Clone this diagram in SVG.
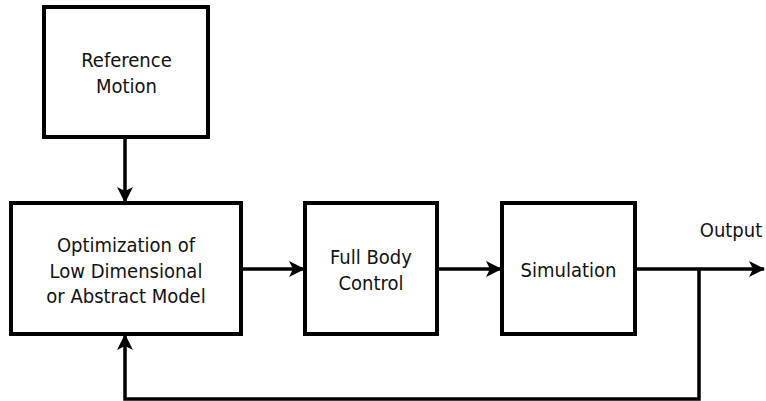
<svg xmlns="http://www.w3.org/2000/svg" width="766" height="401" viewBox="0 0 766 401">
<defs>
<style>
.box{fill:#fff;stroke:#000;stroke-width:4}
.t{font-family:"DejaVu Sans Condensed","DejaVu Sans",sans-serif;font-stretch:condensed;font-size:20px;fill:#111;text-anchor:middle}
.c{fill:none;stroke:#000;stroke-width:3.5}
</style>
<marker id="ah" viewBox="0 0 16 16" refX="15" refY="8" markerWidth="16" markerHeight="16" markerUnits="userSpaceOnUse" orient="auto">
<path d="M0,0 L16,8 L0,16 L4,8 Z" fill="#000"/>
</marker>
</defs>
<rect width="766" height="401" fill="#fff"/>
<g id="connectors">
<line class="c" x1="125" y1="137" x2="125" y2="202" marker-end="url(#ah)"/>
<line class="c" x1="241" y1="269" x2="304" y2="269" marker-end="url(#ah)"/>
<line class="c" x1="437" y1="269" x2="501" y2="269" marker-end="url(#ah)"/>
<line class="c" x1="635" y1="269" x2="764" y2="269" marker-end="url(#ah)"/>
<polyline class="c" points="699,269 699,399 125,399 125,335" marker-end="url(#ah)"/>
</g>
<g id="ref">
<rect class="box" x="44" y="7" width="164" height="130"/>
<text class="t" x="126.5" y="67">Reference</text>
<text class="t" x="126.5" y="93">Motion</text>
</g>
<g id="opt">
<rect class="box" x="11" y="203" width="230" height="131"/>
<text class="t" x="126" y="252">Optimization of</text>
<text class="t" x="126" y="277.5">Low Dimensional</text>
<text class="t" x="126" y="303">or Abstract Model</text>
</g>
<g id="fbc">
<rect class="box" x="305" y="203" width="132" height="131"/>
<text class="t" x="371" y="264">Full Body</text>
<text class="t" x="371" y="290">Control</text>
</g>
<g id="sim">
<rect class="box" x="502" y="203" width="133" height="131"/>
<text class="t" x="568.5" y="277">Simulation</text>
</g>
<g id="out">
<text class="t" x="731" y="237">Output</text>
</g>
</svg>
